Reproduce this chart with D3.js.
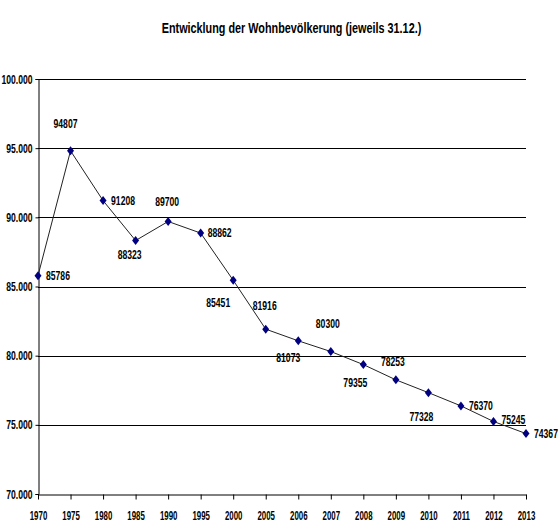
<!DOCTYPE html>
<html>
<head>
<meta charset="utf-8">
<script src="https://cdn.jsdelivr.net/npm/d3@7"></script>
<style>
  body { margin: 0; background: #fff; }
  svg text { font-family: "Liberation Sans", Arial, sans-serif; font-weight: bold; }
</style>
</head>
<body>
<svg id="chart" width="560" height="530"></svg>
<script>
const titleText = "Entwicklung der Wohnbevölkerung (jeweils 31.12.)";
const years = ["1970","1975","1980","1985","1990","1995","2000","2005","2006","2007","2008","2009","2010","2011","2012","2013"];
const population = [85786, 94807, 91208, 88323, 89700, 88862, 85451, 81916, 81073, 80300, 79355, 78253, 77328, 76370, 75245, 74367];
const yTicks = [70000, 75000, 80000, 85000, 90000, 95000, 100000];

// label placement (layout only): [dx, dy, anchor]
const labelPlacement = [
  [8, 0, "start"], [-5, -27, "middle"], [8, 0, "start"], [-6, 14, "middle"],
  [-1, -20, "middle"], [7, 0, "start"], [-15, 22, "middle"], [-1, -24, "middle"],
  [-10, 17, "middle"], [-3, -28, "middle"], [-8, 18, "middle"], [-3, -18, "middle"],
  [-7, 24, "middle"], [8, 0, "start"], [8, -2, "start"], [8, 0, "start"]
];

const svg = d3.select("#chart");
const mLeft = 38, mRight = 526, mTop = 79, mBottom = 494;

const x = d3.scalePoint().domain(years).range([mLeft, mRight]).padding(0);
const y = d3.scaleLinear().domain([70000, 100000]).range([mBottom, mTop]);

const de = d3.formatLocale({decimal: ",", thousands: ".", grouping: [3], currency: ["", " €"]});
const fmt = de.format(",.0f");

// horizontally condense text (narrow font look)
function condense(sel, k) {
  sel.each(function () {
    const t = d3.select(this);
    const xv = +(t.attr("x") || 0);
    t.attr("x", xv / k).attr("transform", `scale(${k},1)`);
  });
}

// title
svg.append("text")
  .attr("x", 291.5).attr("y", 33)
  .attr("text-anchor", "middle")
  .attr("font-size", 14)
  .text(titleText)
  .call(condense, 0.774);

// gridlines
svg.append("g")
  .selectAll("line")
  .data(yTicks.filter(d => d > 70000))
  .join("line")
  .attr("x1", mLeft).attr("x2", mRight)
  .attr("y1", d => Math.round(y(d)) + 0.5).attr("y2", d => Math.round(y(d)) + 0.5)
  .attr("stroke", "#000").attr("stroke-width", 1);

// y axis
const yAxis = svg.append("g")
  .attr("transform", `translate(${mLeft + 0.5},0)`)
  .call(d3.axisLeft(y).tickValues(yTicks).tickFormat(fmt).tickSize(3).tickPadding(3));
yAxis.select(".domain").attr("stroke", "#000");
yAxis.selectAll("text").attr("font-size", 12.5).attr("fill", "#000").call(condense, 0.69);

// x axis
const xAxis = svg.append("g")
  .attr("transform", `translate(0,${Math.round(mBottom) + 0.5})`)
  .call(d3.axisBottom(x).tickSize(5).tickPadding(11.5).tickSizeOuter(0));
xAxis.select(".domain").attr("stroke", "#000");
xAxis.selectAll("text").attr("font-size", 12.5).attr("fill", "#000").call(condense, 0.63);

// line
const line = d3.line().x((d, i) => x(years[i])).y(d => y(d));
svg.append("path")
  .datum(population)
  .attr("d", line)
  .attr("fill", "none")
  .attr("stroke", "#222")
  .attr("stroke-width", 1);

// markers
svg.append("g")
  .selectAll("path")
  .data(population)
  .join("path")
  .attr("transform", (d, i) => `translate(${x(years[i])},${y(d)})`)
  .attr("d", "M0,-4.5L3.5,0L0,4.5L-3.5,0Z")
  .attr("fill", "#000080");

// data labels
svg.append("g")
  .selectAll("text")
  .data(population)
  .join("text")
  .attr("x", (d, i) => x(years[i]) + labelPlacement[i][0])
  .attr("y", (d, i) => y(d) + labelPlacement[i][1])
  .attr("dy", "0.35em")
  .attr("text-anchor", (d, i) => labelPlacement[i][2])
  .attr("font-size", 12.5)
  .attr("fill", "#000")
  .text(d => d)
  .call(condense, 0.69);
</script>
</body>
</html>
